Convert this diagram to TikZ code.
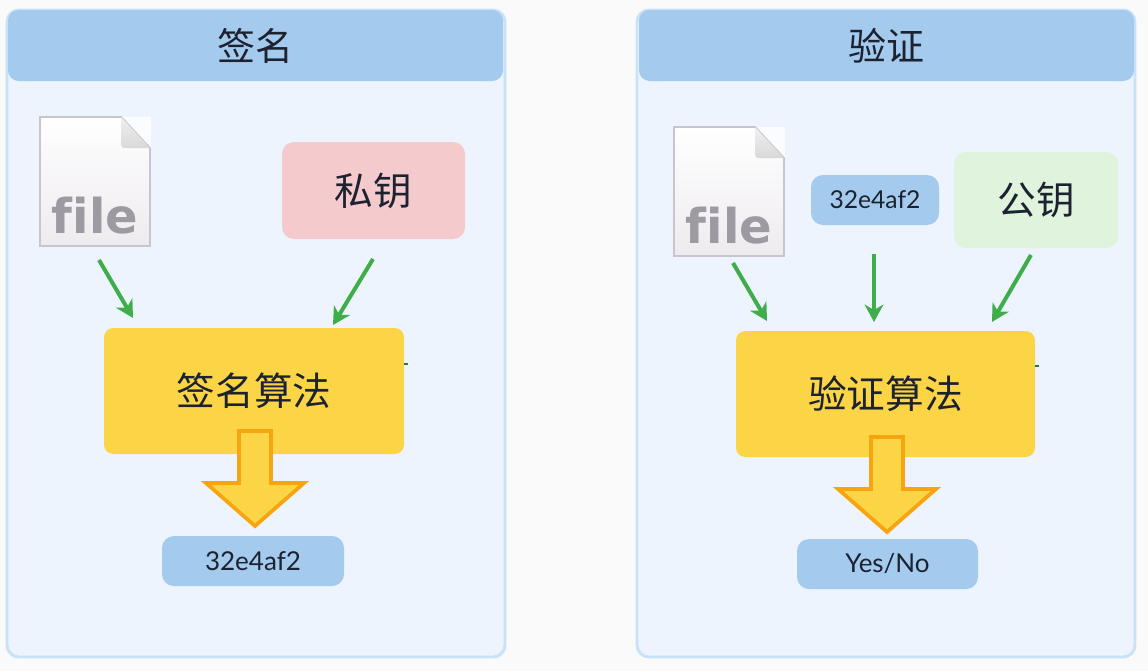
\documentclass[tikz,border=0pt]{standalone}
\usepackage{fontspec}
\setmainfont{Lato}
\newfontfamily\cjk{Noto Sans CJK SC}
\newfontfamily\filefont{DejaVu Sans Bold}
\usetikzlibrary{arrows.meta,calc}
\definecolor{panelfill}{HTML}{EDF4FE}
\definecolor{panelline}{HTML}{C8E2F8}
\definecolor{headblue}{HTML}{A4CAEE}
\definecolor{keypink}{HTML}{F5CACC}
\definecolor{keygreen}{HTML}{DFF3DD}
\definecolor{algoyel}{HTML}{FCD546}
\definecolor{bigline}{HTML}{F6A511}
\definecolor{flowgreen}{HTML}{3FAE4A}
\definecolor{inktext}{HTML}{1C2230}
\definecolor{filegray}{HTML}{9D9BA1}
\definecolor{pageline}{HTML}{C8C6CC}
\definecolor{pagelow}{HTML}{EEEBEF}
\tikzset{
  boxed/.style={rounded corners=9pt,inner sep=0pt,text=inktext,font=\cjk\fontsize{29}{34}\selectfont},
  panelbox/.style={draw=panelline,line width=2.2pt,fill=panelfill,rounded corners=9pt},
  headbox/.style={boxed,fill=headblue,rounded corners=8pt,font=\cjk\fontsize{28.5}{34}\selectfont},
  pinkbox/.style={boxed,fill=keypink},
  greenbox/.style={boxed,fill=keygreen},
  algobox/.style={boxed,fill=algoyel,rounded corners=7pt},
  hashbox/.style={boxed,fill=headblue,rounded corners=9pt,font=\fontsize{19.5}{24}\selectfont},
  filetag/.style={inner sep=0pt,text=filegray,font=\filefont\fontsize{36}{40}\selectfont},
  flow/.style={draw=flowgreen,line width=3pt,-{Stealth[length=13pt,width=14pt,inset=4pt]}},
  bigarrow/.style={draw=bigline,fill=algoyel,line width=2.8pt,miter limit=10}
}
\begin{document}
\begin{tikzpicture}[x=0.75pt,y=-0.75pt]
\useasboundingbox (0,0) rectangle (1148,671);
\fill[white!98!black] (0,0) rectangle (1148,671);
% panels
\draw[panelbox] (7,10) rectangle (505,657);
\draw[panelbox] (637,10) rectangle (1135,657);
\node[headbox,minimum width=371.25pt,minimum height=53.25pt] (head1) at (255.5,45.5) {\raisebox{0.7pt}{签名}};
\node[headbox,minimum width=371.25pt,minimum height=53.25pt] (head2) at (886.5,45.5) {\raisebox{0.7pt}{验证}};
% file icons
\foreach \nm/\l/\t in {file1/40/117,file2/674/127}{
  \begin{scope}[shift={(\l,\t)}]
    \fill[white!70!panelfill] (81,0) rectangle (111,31);
    \path[top color=white,bottom color=pagelow,draw=pageline,line width=1.4pt]
      (0,0) -- (81,0) -- (110,31) -- (110,129) -- (0,129) -- cycle;
    \path[top color=black!6,bottom color=black!15,draw=none]
      (81,0) -- (110,31) -- (86,31) .. controls (82,31) and (81,30) .. (81,27) -- cycle;
    \node[filetag] (\nm) at (55,99) {f\kern0pt ile};
  \end{scope}
}
% keys
\node[pinkbox,minimum width=137.25pt,minimum height=72.75pt] (prikey) at (373.5,190.5) {\raisebox{2.5pt}{私钥}};
\node[greenbox,minimum width=123pt,minimum height=72pt] (pubkey) at (1036,200) {\raisebox{1.5pt}{公钥}};
\node[hashbox,minimum width=96pt,minimum height=37.5pt,font=\fontsize{18.5}{23}\selectfont] (hash2) at (875,200) {32e4af2};
% algorithms
\node[algobox,minimum width=225pt,minimum height=94.5pt] (algo1) at (254,391) {\raisebox{0.7pt}{签名算法}};
\node[algobox,minimum width=224.25pt,minimum height=94.5pt] (algo2) at (885.5,394) {\raisebox{0.7pt}{验证算法}};
% big arrows
\foreach \nm/\cx/\t in {big1/255/431,big2/887/437}{
  \begin{scope}[shift={(\cx,\t)}]
    \draw[bigarrow] (-16,0) -- (16,0) -- (16,52) -- (49,52) -- (0,95) -- (-49,52) -- (-16,52) -- cycle;
    \coordinate (\nm) at (0,95);
  \end{scope}
}
% outputs
\node[hashbox,minimum width=136.5pt,minimum height=37.5pt] (hash1) at (253,561) {32e4af2};
\node[hashbox,minimum width=135.75pt,minimum height=37.5pt] (yesno) at (887.5,564) {Yes/No};
% connectors
\coordinate (a1) at (99,260); \coordinate (a2) at (133,318);
\coordinate (b1) at (373,259); \coordinate (b2) at (333,325);
\coordinate (c1) at (733,263); \coordinate (c2) at (767,321);
\coordinate (d1) at (874,254); \coordinate (d2) at (874,322);
\coordinate (e1) at (1031,255); \coordinate (e2) at (992,322);
\foreach \p/\q in {a1/a2,b1/b2,c1/c2,d1/d2,e1/e2}{\draw[flow] (\p) -- (\q);}
% small marks at the edge of the algorithm boxes
\draw[flowgreen!70!black,line width=0.8pt] (algo1.east)++(0,-27) -- ++(4,0);
\draw[flowgreen!70!black,line width=0.8pt] (algo2.east)++(0,-28) -- ++(4,0);
\end{tikzpicture}
\end{document}
